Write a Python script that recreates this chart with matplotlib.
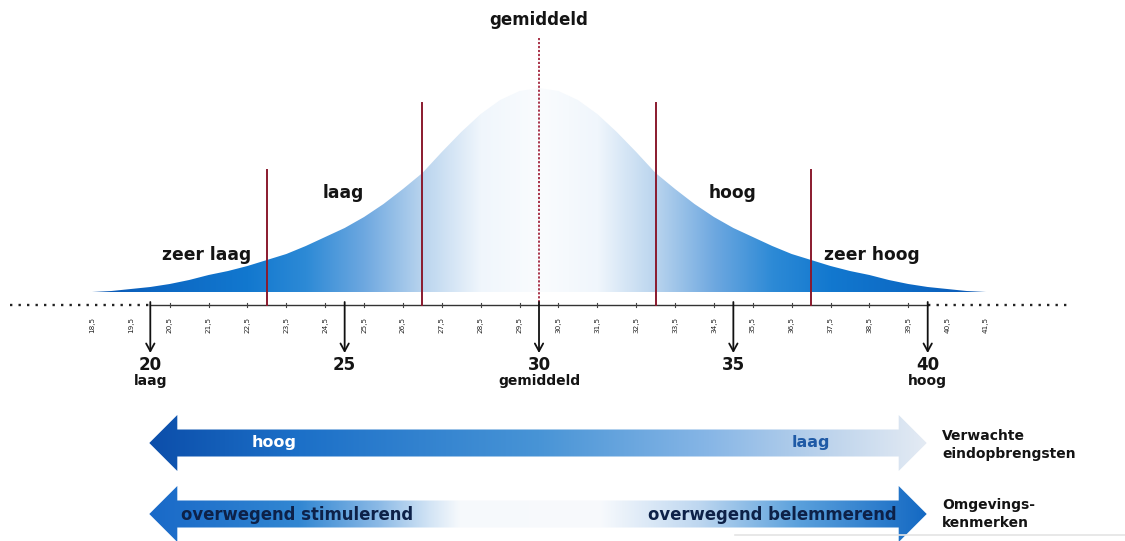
import numpy as np
import matplotlib
matplotlib.use("Agg")
import matplotlib.pyplot as plt
from matplotlib.patches import Polygon

# ------------------------------------------------------------------
# Data (score scale)
# ------------------------------------------------------------------
scores = np.arange(18.5, 41.51, 0.5)
# curve height above the baseline (pixels of the original drawing), symmetric around 30
half_heights = [0, 1, 3, 5, 8, 12, 17, 21, 26, 32, 38, 46, 55, 64, 75, 88,
                103, 119, 140, 160, 178, 192, 201]
curve_heights = half_heights + [204] + half_heights[::-1]

tick_scores = np.arange(18.5, 41.51, 1.0)
tick_labels = [f"{t:.1f}".replace(".", ",") for t in tick_scores]

arrow_scores = [20, 25, 30, 35, 40]
arrow_numbers = ["20", "25", "30", "35", "40"]
arrow_words = ["laag", "", "gemiddeld", "", "hoog"]

band_scores = [23, 27, 33, 37]
band_tops = [170, 103, 103, 170]
band_names = ["zeer laag", "laag", "hoog", "zeer hoog"]
band_name_x = [21.46, 24.96, 34.99, 38.57]
band_name_y = [255, 193, 193, 255]

mean_score = 30

# ------------------------------------------------------------------
# Layout helpers
# ------------------------------------------------------------------
PX_PER_UNIT = 38.87
X_LEFT = 18.5 - 92 / PX_PER_UNIT
X_RIGHT = X_LEFT + 1125 / PX_PER_UNIT
BASE = 292      # baseline of the curve
AXIS_Y = 305    # score axis
DARK_RED = "#8a1a2e"
TXT = "#141414"


def px(n):
    """pixel length -> score units"""
    return n / PX_PER_UNIT


def gradient_image(ax, x0, x1, y0, y1, stops_x, stops_rgb, clip):
    n = 700
    xs = np.linspace(x0, x1, n)
    rgb = np.array(stops_rgb, dtype=float) / 255.0
    img = np.stack([np.interp(xs, stops_x, rgb[:, k]) for k in range(3)], axis=-1)
    im = ax.imshow(img[np.newaxis, :, :], extent=(x0, x1, y1, y0),
                   aspect="auto", interpolation="bilinear", zorder=1)
    im.set_clip_path(clip)


def arrow_poly(x_left, x_right, cy, shaft=13.5, head=28, head_len=28):
    L = px(head_len)
    return [(x_left, cy), (x_left + L, cy - head), (x_left + L, cy - shaft),
            (x_right - L, cy - shaft), (x_right - L, cy - head), (x_right, cy),
            (x_right - L, cy + head), (x_right - L, cy + shaft),
            (x_left + L, cy + shaft), (x_left + L, cy + head)]


plt.rcParams["font.family"] = ["DejaVu Sans"]
fig = plt.figure(figsize=(11.25, 5.41), dpi=100)
ax = fig.add_axes([0, 0, 1, 1])
ax.axis("off")

# ------------------------------------------------------------------
# Verdeling (curve with blue gradient fading to white in the middle)
# ------------------------------------------------------------------
curve_y = BASE - np.array(curve_heights)
poly_pts = list(zip(scores, curve_y)) + [(scores[-1], BASE), (scores[0], BASE)]
curve_patch = Polygon(poly_pts, closed=True, facecolor="none", edgecolor="none")
ax.add_patch(curve_patch)

xs = np.linspace(scores[0], scores[-1], 900)
dist = np.abs(xs - mean_score)
d_stops = [0, 1.5, 3, 4.5, 6, 7.5, 10, 11.5]
c_stops = np.array([(250, 252, 254), (240, 246, 252), (185, 212, 238),
                    (110, 168, 224), (45, 138, 214), (18, 120, 207),
                    (12, 102, 194), (10, 86, 178)]) / 255.0
img = np.stack([np.interp(dist, d_stops, c_stops[:, k]) for k in range(3)], axis=-1)
im = ax.imshow(img[np.newaxis], extent=(scores[0], scores[-1], BASE, curve_y.min()),
               aspect="auto", interpolation="bilinear", zorder=1)
im.set_clip_path(curve_patch)

# grenslijnen
for s, top in zip(band_scores, band_tops):
    ax.plot([s, s], [top, AXIS_Y], color=DARK_RED, lw=1.4, zorder=3)
ax.plot([mean_score, mean_score], [38, AXIS_Y], color="#a2243c", lw=1.3,
        linestyle=(0, (1.2, 1.0)), zorder=3)

for name, x, y in zip(band_names, band_name_x, band_name_y):
    ax.text(x, y, name, ha="center", va="center", fontsize=12.3,
            fontweight="bold", color=TXT, zorder=4)
ax.text(mean_score, 20, "gemiddeld", ha="center", va="center", fontsize=12,
        fontweight="bold", color=TXT)

# ------------------------------------------------------------------
# Score-as
# ------------------------------------------------------------------
ax.plot([arrow_scores[0], arrow_scores[-1]], [AXIS_Y, AXIS_Y], color="#333333",
        lw=1.0, zorder=2)
ax.plot([X_LEFT + px(10), arrow_scores[0]], [AXIS_Y, AXIS_Y], color="#222222",
        lw=1.7, linestyle=(0, (1, 2.6)))
ax.plot([arrow_scores[-1], X_LEFT + px(1072)], [AXIS_Y, AXIS_Y], color="#222222",
        lw=1.7, linestyle=(0, (1, 2.6)))
for s, lab in zip(tick_scores, tick_labels):
    if arrow_scores[0] < s < arrow_scores[-1]:
        ax.plot([s, s], [AXIS_Y - 2, AXIS_Y + 2], color="#444444", lw=0.8)
    ax.text(s, 325, lab, rotation=90, ha="center", va="center", fontsize=5.2,
            color="#222222")

for s, num, word in zip(arrow_scores, arrow_numbers, arrow_words):
    ax.annotate("", xy=(s, 353), xytext=(s, 302),
                arrowprops=dict(arrowstyle="->,head_length=0.55,head_width=0.3",
                                color="#111111", lw=1.3, shrinkA=0, shrinkB=0))
    ax.text(s, 365, num, ha="center", va="center", fontsize=12,
            fontweight="bold", color=TXT)
    if word:
        ax.text(s, 381, word, ha="center", va="center", fontsize=10,
                fontweight="bold", color=TXT)

# ------------------------------------------------------------------
# Pijlen onderaan
# ------------------------------------------------------------------
a_left, a_right = arrow_scores[0] - px(1), arrow_scores[-1] - px(1)

p1 = Polygon(arrow_poly(a_left, a_right, 443), closed=True,
             facecolor="none", edgecolor="none")
ax.add_patch(p1)
gradient_image(ax, a_left, a_right, 410, 476,
               [a_left, a_left + px(150), mean_score, a_left + px(560),
                a_left + px(680), a_right],
               [(12, 78, 170), (28, 112, 200), (72, 148, 214), (135, 182, 230),
                (190, 212, 236), (228, 235, 244)], p1)
ax.text(a_left + px(125), 443, "hoog", ha="center", va="center", fontsize=11.5,
        fontweight="bold", color="white", zorder=4)
ax.text(a_left + px(662), 443, "laag", ha="center", va="center", fontsize=11.5,
        fontweight="bold", color="#1f5aa6", zorder=4)

p2 = Polygon(arrow_poly(a_left, a_right, 514), closed=True,
             facecolor="none", edgecolor="none")
ax.add_patch(p2)
gradient_image(ax, a_left, a_right, 480, 545,
               [a_left, a_left + px(150), a_left + px(230), a_left + px(280),
                a_left + px(310), a_left + px(450), a_left + px(550),
                a_left + px(650), a_right],
               [(25, 105, 200), (50, 135, 210), (140, 186, 230), (210, 228, 245),
                (246, 249, 252), (248, 250, 253), (190, 215, 240),
                (90, 160, 220), (20, 105, 195)], p2)
ax.text(a_left + px(148), 515, "overwegend stimulerend", ha="center",
        va="center", fontsize=11.9, fontweight="bold", color="#0d2148", zorder=4)
ax.text(a_left + px(623), 515, "overwegend belemmerend", ha="center",
        va="center", fontsize=11.9, fontweight="bold", color="#0d2148", zorder=4)

ax.text(X_LEFT + px(942), 445, "Verwachte\neindopbrengsten", ha="left",
        va="center", fontsize=10, fontweight="bold", color=TXT,
        linespacing=1.3)
ax.text(X_LEFT + px(942), 514, "Omgevings-\nkenmerken", ha="left",
        va="center", fontsize=10, fontweight="bold", color=TXT,
        linespacing=1.3)
ax.plot([X_LEFT + px(735), X_RIGHT], [535, 535], color="#e4e4e4", lw=1.2)

ax.set_xlim(X_LEFT, X_RIGHT)
ax.set_ylim(541, 0)

fig.savefig("out.png", dpi=100, facecolor="white")
